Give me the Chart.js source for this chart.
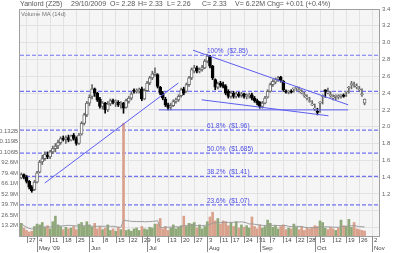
<!DOCTYPE html>
<html>
<head>
<meta charset="utf-8">
<script src="https://cdn.jsdelivr.net/npm/chart.js@4.4.0/dist/chart.umd.min.js"></script>
<style>
  html, body { margin: 0; padding: 0; background: #fff; }
</style>
</head>
<body>
<canvas id="stockChart" width="400" height="253"></canvas>
<script>
// trading calendar (SGX holidays skipped)
const firstDay = '2009-04-23';
const lastDay = '2009-11-04';
const holidays = ['2009-05-01', '2009-08-10', '2009-09-21'];

// daily candles, one row per week
const opens = [
  1.39, 1.43,
  1.40, 1.35, 1.28, 1.25,
  1.34, 1.46, 1.58, 1.62, 1.66,
  1.64, 1.70, 1.74, 1.77, 1.81,
  1.86, 1.85, 1.87, 1.84, 1.90,
  1.86, 1.80, 1.91, 2.04, 2.14,
  2.28, 2.36, 2.45, 2.40, 2.33,
  2.24, 2.28, 2.20, 2.27, 2.31,
  2.29, 2.29, 2.26, 2.28, 2.23,
  2.30, 2.34, 2.43, 2.42, 2.43,
  2.45, 2.33, 2.43, 2.52, 2.58,
  2.62, 2.62, 2.47, 2.40, 2.33,
  2.26, 2.23, 2.25, 2.30, 2.32,
  2.37, 2.45, 2.42, 2.50, 2.58,
  2.66, 2.70, 2.66, 2.68, 2.70,
  2.78, 2.83, 2.72, 2.56,
  2.47, 2.52, 2.50, 2.48, 2.42,
  2.36, 2.40, 2.36, 2.39, 2.37,
  2.39, 2.36, 2.37, 2.38, 2.34,
  2.31, 2.29, 2.24, 2.28, 2.35,
  2.42, 2.50, 2.53, 2.56, 2.59,
  2.54, 2.42, 2.41, 2.42,
  2.45, 2.46, 2.43, 2.40, 2.37,
  2.34, 2.30, 2.26, 2.21, 2.18,
  2.28, 2.36, 2.44, 2.40, 2.37,
  2.34, 2.36, 2.35, 2.37, 2.37,
  2.41, 2.46, 2.50, 2.49, 2.47,
  2.44, 2.38, 2.28
];
const highs = [
  1.45, 1.44,
  1.42, 1.36, 1.30, 1.36,
  1.47, 1.60, 1.66, 1.70, 1.70,
  1.72, 1.77, 1.80, 1.84, 1.88,
  1.89, 1.89, 1.90, 1.90, 1.92,
  1.88, 1.92, 2.06, 2.16, 2.30,
  2.38, 2.50, 2.46, 2.41, 2.35,
  2.30, 2.29, 2.30, 2.33, 2.33,
  2.32, 2.31, 2.30, 2.29, 2.33,
  2.36, 2.41, 2.45, 2.45, 2.46,
  2.47, 2.45, 2.54, 2.60, 2.66,
  2.70, 2.63, 2.48, 2.42, 2.35,
  2.28, 2.28, 2.32, 2.34, 2.38,
  2.46, 2.47, 2.52, 2.60, 2.70,
  2.73, 2.72, 2.70, 2.73, 2.80,
  2.86, 2.85, 2.73, 2.57,
  2.53, 2.54, 2.53, 2.50, 2.44,
  2.42, 2.42, 2.41, 2.41, 2.41,
  2.40, 2.39, 2.40, 2.40, 2.36,
  2.33, 2.30, 2.30, 2.36, 2.44,
  2.52, 2.56, 2.58, 2.60, 2.60,
  2.55, 2.44, 2.43, 2.44,
  2.46, 2.48, 2.47, 2.44, 2.41,
  2.38, 2.35, 2.31, 2.27, 2.22,
  2.30, 2.38, 2.44, 2.46, 2.42,
  2.38, 2.38, 2.38, 2.38, 2.39,
  2.42, 2.48, 2.54, 2.53, 2.51,
  2.48, 2.45, 2.33
];
const lows = [
  1.38, 1.38,
  1.33, 1.26, 1.22, 1.24,
  1.33, 1.45, 1.55, 1.60, 1.62,
  1.62, 1.68, 1.70, 1.74, 1.79,
  1.83, 1.80, 1.82, 1.83, 1.84,
  1.78, 1.79, 1.90, 2.02, 2.12,
  2.25, 2.33, 2.36, 2.30, 2.22,
  2.21, 2.16, 2.18, 2.25, 2.27,
  2.24, 2.24, 2.22, 2.16, 2.22,
  2.28, 2.32, 2.40, 2.40, 2.40,
  2.31, 2.32, 2.42, 2.50, 2.56,
  2.60, 2.46, 2.38, 2.32, 2.24,
  2.20, 2.20, 2.24, 2.28, 2.30,
  2.35, 2.38, 2.41, 2.48, 2.56,
  2.64, 2.64, 2.64, 2.66, 2.69,
  2.76, 2.70, 2.56, 2.44,
  2.45, 2.47, 2.46, 2.38, 2.34,
  2.34, 2.34, 2.34, 2.35, 2.35,
  2.34, 2.33, 2.34, 2.32, 2.29,
  2.26, 2.22, 2.22, 2.27, 2.34,
  2.41, 2.48, 2.51, 2.54, 2.53,
  2.42, 2.40, 2.39, 2.40,
  2.41, 2.43, 2.41, 2.39, 2.35,
  2.32, 2.29, 2.25, 2.19, 2.14,
  2.17, 2.27, 2.35, 2.39, 2.35,
  2.32, 2.32, 2.33, 2.34, 2.35,
  2.36, 2.40, 2.45, 2.47, 2.45,
  2.42, 2.36, 2.26
];
const closes = [
  1.43, 1.40,
  1.35, 1.28, 1.24, 1.34,
  1.45, 1.58, 1.62, 1.67, 1.64,
  1.70, 1.74, 1.77, 1.81, 1.86,
  1.85, 1.87, 1.84, 1.89, 1.86,
  1.80, 1.90, 2.04, 2.14, 2.28,
  2.35, 2.45, 2.40, 2.32, 2.24,
  2.28, 2.20, 2.27, 2.31, 2.29,
  2.30, 2.26, 2.28, 2.22, 2.31,
  2.34, 2.39, 2.42, 2.43, 2.44,
  2.33, 2.43, 2.52, 2.58, 2.63,
  2.64, 2.48, 2.40, 2.34, 2.26,
  2.23, 2.25, 2.30, 2.32, 2.36,
  2.44, 2.40, 2.50, 2.58, 2.68,
  2.70, 2.66, 2.68, 2.70, 2.78,
  2.84, 2.72, 2.58, 2.47,
  2.51, 2.49, 2.48, 2.40, 2.36,
  2.40, 2.36, 2.39, 2.37, 2.39,
  2.36, 2.37, 2.38, 2.34, 2.31,
  2.28, 2.24, 2.28, 2.34, 2.42,
  2.50, 2.54, 2.56, 2.58, 2.55,
  2.44, 2.41, 2.42, 2.41,
  2.45, 2.46, 2.43, 2.40, 2.37,
  2.34, 2.30, 2.27, 2.21, 2.17,
  2.28, 2.36, 2.42, 2.40, 2.37,
  2.34, 2.36, 2.35, 2.37, 2.36,
  2.41, 2.46, 2.51, 2.49, 2.47,
  2.44, 2.38, 2.33
];
// volume in millions of shares
const volumes = [
  16, 10,
  7, 5, 6, 12,
  15, 14, 17, 11, 13,
  9, 18, 25, 14, 12,
  8, 11, 9, 10, 12,
  8, 15, 17, 12, 18,
  14, 11, 16, 9, 12,
  8, 10, 14, 7, 9,
  6, 11, 8, 142, 7,
  8, 6, 9, 10, 7,
  12, 9, 8, 11, 10,
  15, 15, 22, 9, 12,
  7, 10, 14, 9, 11,
  13, 25, 12, 16, 15,
  17, 10, 14, 9, 12,
  18, 24, 30, 19,
  22, 15, 19, 18, 13,
  17, 12, 18, 10, 14,
  11, 13, 10, 24, 12,
  9, 14, 10, 12, 20,
  16, 11, 13, 9, 12,
  14, 8, 10, 9,
  15, 11, 8, 12, 7,
  10, 9, 11, 13, 12,
  19, 17, 10, 8, 11,
  9, 7, 10, 20, 13,
  12, 21, 11, 17, 9,
  8, 7, 6.22
];

const priceMin = 0.7;
const priceMax = 3.4;
const priceStep = 0.2;
const volMax = 286;
const volTickStep = 13.23;
const volTickLabels = ['13.2M', '26.5M', '39.7M', '52.9M', '66.1M', '79.4M', '92.6M', '0.106B', '0.119B', '0.132B'];
const monthLabels = ["May '09", 'Jun', 'Jul', 'Aug', 'Sep', 'Oct', 'Nov'];

const fibLevels = [2.85, 2.42, 1.96, 1.685, 1.41, 1.07];
const fibLabels = ['100%  ($2.85)', '', '61.8%  ($1.96)', '50.0%  ($1.685)', '38.2%  ($1.41)', '23.6%  ($1.07)'];

// hand drawn trend lines: [fromDay, fromPrice, toDay, toPrice]
const trendLines = [
  [-0.9, 1.33, 58.6, 2.52],
  [65.1, 2.91, 134.2, 2.26],
  [69.0, 2.32, 125.4, 2.13],
  [49.9, 2.20, 134.2, 2.20]
];

const headerItems = ['Yanlord (Z25)', '29/10/2009', 'O= 2.28', 'H= 2.33', 'L= 2.26', 'C= 2.33', 'V= 6.22M', 'Chg= +0.01 (+0.4%)'];

function tradingDays(from, to, skip) {
  const out = [];
  const d = new Date(from + 'T00:00:00Z');
  const end = new Date(to + 'T00:00:00Z');
  while (d <= end) {
    const iso = d.toISOString().slice(0, 10);
    const wd = d.getUTCDay();
    if (wd > 0 && wd < 6 && !skip.includes(iso)) out.push(iso);
    d.setUTCDate(d.getUTCDate() + 1);
  }
  return out;
}

const days = tradingDays(firstDay, lastDay, holidays);
const dow = days.map(d => new Date(d + 'T00:00:00Z').getUTCDay());
const isWeekStart = i => i > 0 && dow[i] < dow[i - 1];
const isMonthStart = i => i > 0 && days[i].slice(5, 7) !== days[i - 1].slice(5, 7);

const up = closes.map((c, i) => c >= opens[i]);
const volColors = closes.map((c, i) => c >= (i ? closes[i - 1] : opens[i]) ? '#8fa878' : '#d9a08b');
const volumeMA = volumes.map((v, i) => {
  const win = volumes.slice(Math.max(0, i - 13), i + 1);
  return win.reduce((a, b) => a + b, 0) / win.length;
});

const FONT = "'Liberation Sans', Arial, sans-serif";
const gridColor = '#e2e2e2';

const chartDecor = {
  id: 'chartDecor',
  beforeDraw(chart) {
    const { ctx, chartArea: a } = chart;
    ctx.save();
    ctx.fillStyle = '#f5f5f5';
    ctx.fillRect(a.left, a.top, a.right - a.left, a.bottom - a.top);
    ctx.restore();
  },
  beforeDatasetsDraw(chart) {
    const { ctx, chartArea: a, scales } = chart;
    ctx.save();
    ctx.strokeStyle = '#7373f2';
    ctx.lineWidth = 1.2;
    ctx.setLineDash([4, 2]);
    ctx.font = '6.5px ' + FONT;
    ctx.fillStyle = '#4b4be6';
    ctx.textBaseline = 'bottom';
    fibLevels.forEach((lv, k) => {
      const y = scales.y.getPixelForValue(lv);
      ctx.beginPath();
      ctx.moveTo(a.left, y);
      ctx.lineTo(a.right, y);
      ctx.stroke();
      if (fibLabels[k]) ctx.fillText(fibLabels[k], 207, y - 0.5);
    });
    ctx.restore();
  },
  afterDraw(chart) {
    const { ctx, chartArea: a, scales } = chart;
    ctx.save();
    // frame
    ctx.strokeStyle = '#a0a0a0';
    ctx.lineWidth = 1;
    ctx.strokeRect(Math.round(a.left) - 0.5, Math.round(a.top) + 0.5,
      Math.round(a.right - a.left) + 1, Math.round(a.bottom - a.top));

    // header line
    ctx.font = '7px ' + FONT;
    ctx.fillStyle = '#555';
    ctx.textBaseline = 'middle';
    const hx = [20, 71, 110, 138, 167, 202, 235, 267];
    headerItems.forEach((t, k) => ctx.fillText(t, hx[k], 4.5));

    ctx.font = '5.8px ' + FONT;
    ctx.fillStyle = '#777';
    ctx.fillText('Volume MA (14d)', a.left + 1, a.top + 5);

    // date axis
    ctx.font = '6px ' + FONT;
    ctx.fillStyle = '#444';
    ctx.strokeStyle = '#8a8a8a';
    let m = 0;
    days.forEach((d, i) => {
      const x = Math.round(scales.x.getPixelForValue(i)) + 0.5;
      if (isMonthStart(i)) {
        ctx.beginPath();
        ctx.moveTo(x, a.bottom);
        ctx.lineTo(x, a.bottom + 16);
        ctx.stroke();
        ctx.fillText(monthLabels[m++], x + 1.5, a.bottom + 12);
      }
      if (isWeekStart(i)) {
        ctx.beginPath();
        ctx.moveTo(x, a.bottom);
        ctx.lineTo(x, a.bottom + 7);
        ctx.stroke();
        ctx.fillText(String(+d.slice(8)), x + 1.5, a.bottom + 4.5);
      }
    });
    ctx.restore();
  }
};

const trendSets = trendLines.map(t => ({
  type: 'line',
  xAxisID: 'xl',
  yAxisID: 'y',
  data: [{ x: t[0], y: t[1] }, { x: t[2], y: t[3] }],
  borderColor: '#5d5df0',
  borderWidth: 1,
  pointRadius: 0,
  order: 0
}));

new Chart(document.getElementById('stockChart'), {
  type: 'bar',
  data: {
    labels: days,
    datasets: [
      {
        data: volumes,
        yAxisID: 'yv',
        backgroundColor: volColors,
        barThickness: 2,
        grouped: false,
        order: 5
      },
      {
        type: 'line',
        data: volumeMA,
        yAxisID: 'yv',
        borderColor: '#9c9c9c',
        borderWidth: 1,
        pointRadius: 0,
        order: 4
      },
      {
        data: lows.map((l, i) => [l, highs[i]]),
        yAxisID: 'y',
        backgroundColor: up.map(u => u ? '#6a6a6a' : '#000'),
        barThickness: 1,
        grouped: false,
        order: 3
      },
      {
        data: opens.map((o, i) => [o, closes[i]]),
        yAxisID: 'y',
        backgroundColor: up.map(u => u ? '#fff' : '#000'),
        borderColor: up.map(u => u ? '#6a6a6a' : '#000'),
        borderWidth: 1,
        borderSkipped: false,
        barThickness: 3,
        minBarLength: 1,
        grouped: false,
        order: 2
      },
      ...trendSets
    ]
  },
  options: {
    responsive: false,
    devicePixelRatio: 1,
    animation: false,
    layout: { padding: { top: 9 } },
    plugins: {
      legend: { display: false },
      tooltip: { enabled: false }
    },
    scales: {
      x: {
        type: 'category',
        offset: true,
        border: { display: false },
        ticks: { display: false, autoSkip: false },
        grid: {
          offset: false,
          drawTicks: false,
          color: ctx => isWeekStart(ctx.index) ? gridColor : 'rgba(0,0,0,0)'
        },
        afterFit: s => { s.height = 17; }
      },
      xl: {
        type: 'linear',
        display: false,
        min: -0.5,
        max: days.length - 0.5
      },
      y: {
        position: 'right',
        min: priceMin,
        max: priceMax,
        border: { display: false },
        grid: { color: gridColor, drawTicks: false },
        ticks: {
          stepSize: priceStep,
          padding: 3,
          color: '#666',
          font: { family: FONT, size: 6 },
          callback: v => v > 1.1 ? v.toFixed(1) : ''
        },
        afterFit: s => { s.width = 21; }
      },
      yv: {
        position: 'left',
        min: 0,
        max: volMax,
        border: { display: false },
        grid: { display: false, drawTicks: false },
        ticks: {
          stepSize: volTickStep,
          padding: 2,
          color: '#666',
          font: { family: FONT, size: 6 },
          callback: v => {
            const k = Math.round(v / volTickStep);
            return k >= 1 && k <= volTickLabels.length ? volTickLabels[k - 1] : '';
          }
        },
        afterFit: s => { s.width = 20; }
      }
    }
  },
  plugins: [chartDecor]
});
</script>
</body>
</html>
